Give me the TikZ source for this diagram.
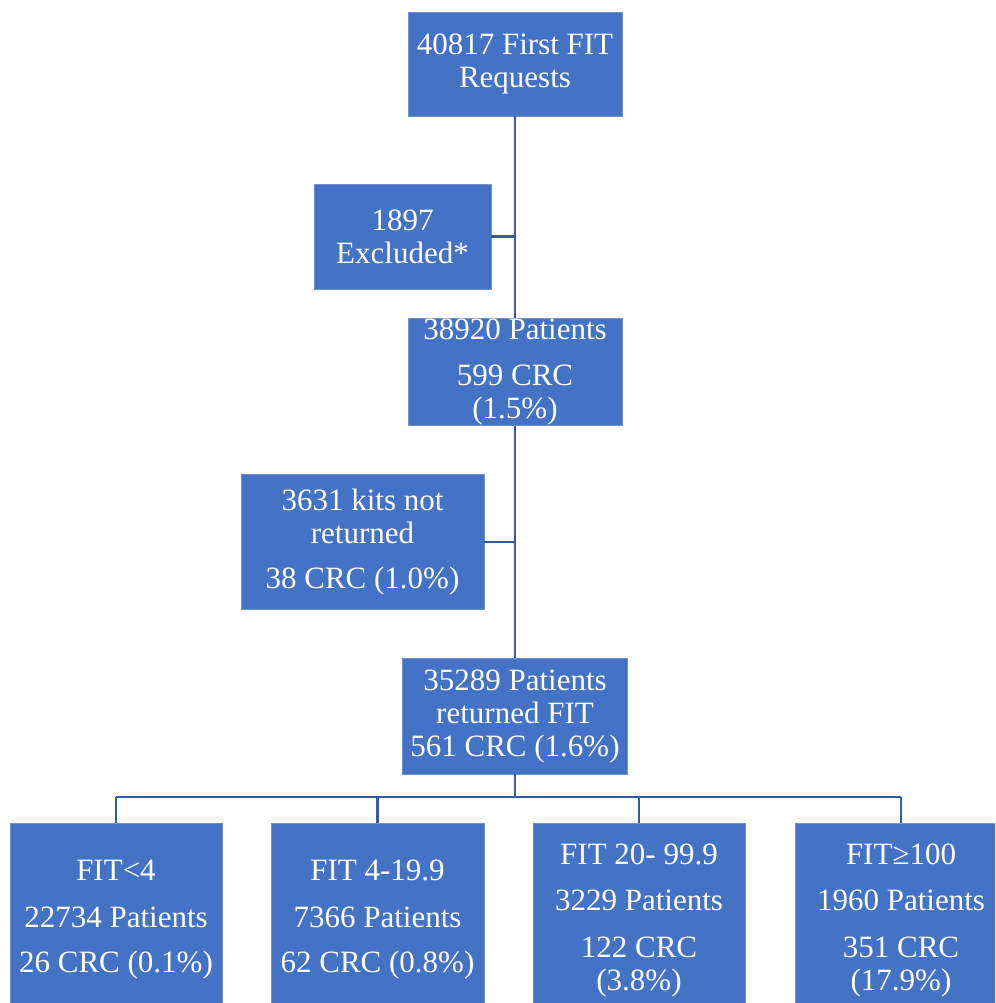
\documentclass[tikz,border=0pt]{standalone}
\usepackage{fontspec}
\setmainfont{Liberation Serif}
\usetikzlibrary{positioning}
\definecolor{boxblue}{RGB}{68,114,196}
\definecolor{edgeblue}{RGB}{110,145,210}
\definecolor{lineblue}{RGB}{52,90,160}

\begin{document}
\begin{tikzpicture}[
      x=1pt,y=-1pt,
      every node/.style={font=\fontsize{31}{33}\selectfont},
      box/.style={draw=edgeblue,line width=0.8pt,fill=boxblue,text=white,align=center,inner sep=0pt},
      link/.style={draw=lineblue,line width=2.6pt}
    ]
    \clip (0,0) rectangle (995,1003);
    % main column
    \node[box,minimum width=214,minimum height=104] (req) at (515,64) {40817 First FIT\\Requests};
    \node[box,minimum width=177,minimum height=105] (excl) at (402.5,236.5) {1897\\Excluded*};
    \node[box,minimum width=214,minimum height=105] (pat) at (515,372) {38920 Patients\\[13pt]599 CRC\\(1.5\%)};
    \node[box,minimum width=243,minimum height=135] (kits) at (362.5,542) {3631 kits not\\returned\\[12pt]38 CRC (1.0\%)};
    \node[box,minimum width=225,minimum height=116] (ret) at (515,716) {35289 Patients\\returned FIT\\561 CRC (1.6\%)};
    % FIT groups
    \node[box,minimum width=212,minimum height=194] (g1) at (116,920) {FIT<4\\[14pt]22734 Patients\\[12pt]26 CRC (0.1\%)};
    \node[box,minimum width=213,minimum height=194] (g2) at (377.5,920) {FIT 4-19.9\\[14pt]7366 Patients\\[12pt]62 CRC (0.8\%)};
    \node[box,minimum width=212,minimum height=194] (g3) at (639,920) {FIT 20- 99.9\\[13pt]3229 Patients\\[14pt]122 CRC\\(3.8\%)};
    \node[box,minimum width=212,minimum height=194] (g4) at (901,920) {FIT≥100\\[13pt]1960 Patients\\[14pt]351 CRC\\(17.9\%)};
    % trunk and side branches
    \draw[link] (req.south) -- (pat.north);
    \draw[link] (excl.east) -- (excl.east -| req.south);
    \draw[link] (pat.south) -- (ret.north);
    \draw[link] (kits.east) -- (kits.east -| pat.south);
    % bus to the groups
    \coordinate (bus) at (515,797);
    \draw[link] (ret.south) -- (bus);
    \draw[link] (g1.north |- bus) -- (g4.north |- bus);
    \foreach \g in {g1,g2,g3,g4}{\draw[link] (\g.north |- bus) -- (\g.north);}
  \end{tikzpicture}
\end{document}
